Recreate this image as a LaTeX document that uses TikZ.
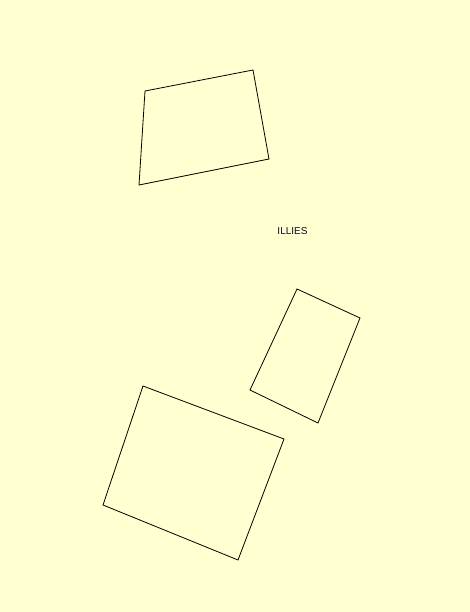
\documentclass[tikz,border=0pt]{standalone}
\usepackage{fontspec}
\setsansfont{Liberation Sans}
\definecolor{paper}{RGB}{255,255,208}
\definecolor{ink}{RGB}{10,10,40}
\tikzset{
    piece/.style = {black,line width = 0.8pt,line join = miter},
    tag/.style = {font = \sffamily\fontsize{10}{11}\selectfont,text = ink,inner sep = 0pt}
}
\begin{document}
\begin{tikzpicture}[x = 1pt,y = -1pt]
    \path[fill = paper] (0,0) rectangle (470,612);
    \useasboundingbox (0,0) rectangle (470,612);
    
    %\draw [help lines,step = 50] (0,0) grid (470,612);
    
    \draw[piece] (145,91) -- (253,70) -- (269,159) -- (139,185) -- cycle;
    
    \draw[piece] (297,289) -- (360,318) -- (318,423) -- (250,390) -- cycle;
    
    \draw[piece] (143,386) -- (284,439) -- (238,560) -- (103,505) -- cycle;
    
    \node[tag] (name) at (292.5,231.5) {ILLIES};
\end{tikzpicture}
\end{document}
